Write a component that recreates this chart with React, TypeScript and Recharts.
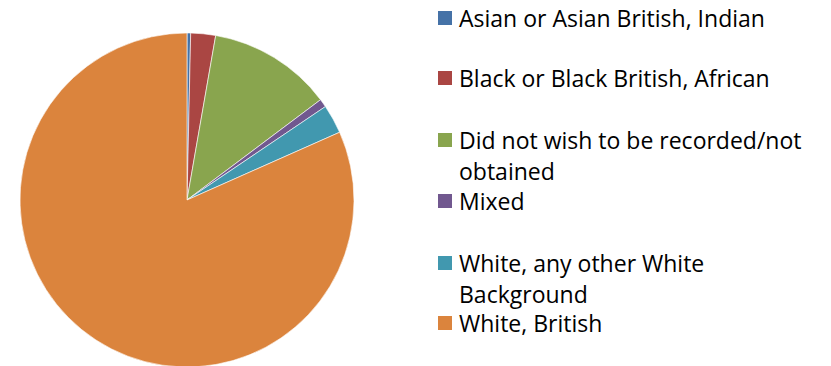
import React from 'react';
import { PieChart, Pie, Cell, Legend } from 'recharts';

const categories = [
  'Asian or Asian British, Indian',
  'Black or Black British, African',
  'Did not wish to be recorded/not obtained',
  'Mixed',
  'White, any other White Background',
  'White, British',
];

// share of records, percent
const shares = [0.35, 2.4, 12.0, 0.8, 2.8, 81.65];

const colors = ['#4572A7', '#AA4643', '#89A54E', '#71588F', '#4198AF', '#DB843D'];

const data = categories.map((name, i) => ({ name, value: shares[i] }));

// top of each legend entry, px
const legendTops = [3, 63, 125, 186, 248, 308];

const FONT = '"Open Sans", "Liberation Sans", sans-serif';

const CustomLegend: React.FC = () => (
  <div style={{ position: 'relative', width: 831, height: 366 }}>
    {categories.map((name, i) => (
      <div
        key={name}
        style={{
          position: 'absolute',
          left: 438,
          top: legendTops[i],
          width: 390,
          fontFamily: FONT,
          fontSize: 23,
          lineHeight: '31px',
          color: '#000',
          textAlign: 'left',
        }}
      >
        <span
          style={{
            position: 'absolute',
            left: 0,
            top: 8,
            width: 14,
            height: 14,
            background: colors[i],
          }}
        />
        <div style={{ marginLeft: 21, width: 362 }}>{name}</div>
      </div>
    ))}
  </div>
);

const App: React.FC = () => {
  return (
    <div style={{ position: 'absolute', left: 0, top: 0, width: 831, height: 366, background: '#fff' }}>
      <PieChart width={831} height={366} margin={{ top: 0, right: 0, bottom: 0, left: 0 }}>
        <Pie
          data={data}
          dataKey="value"
          nameKey="name"
          cx={187}
          cy={200}
          outerRadius={167}
          startAngle={90}
          endAngle={-270}
          stroke="#ffffff"
          strokeWidth={0.6}
          isAnimationActive={false}
        >
          {data.map((d, i) => (
            <Cell key={d.name} fill={colors[i]} />
          ))}
        </Pie>
        <Legend
          content={() => <CustomLegend />}
          wrapperStyle={{ position: 'absolute', left: 0, top: 0, width: 831, height: 366 }}
        />
      </PieChart>
    </div>
  );
};

export default App;
